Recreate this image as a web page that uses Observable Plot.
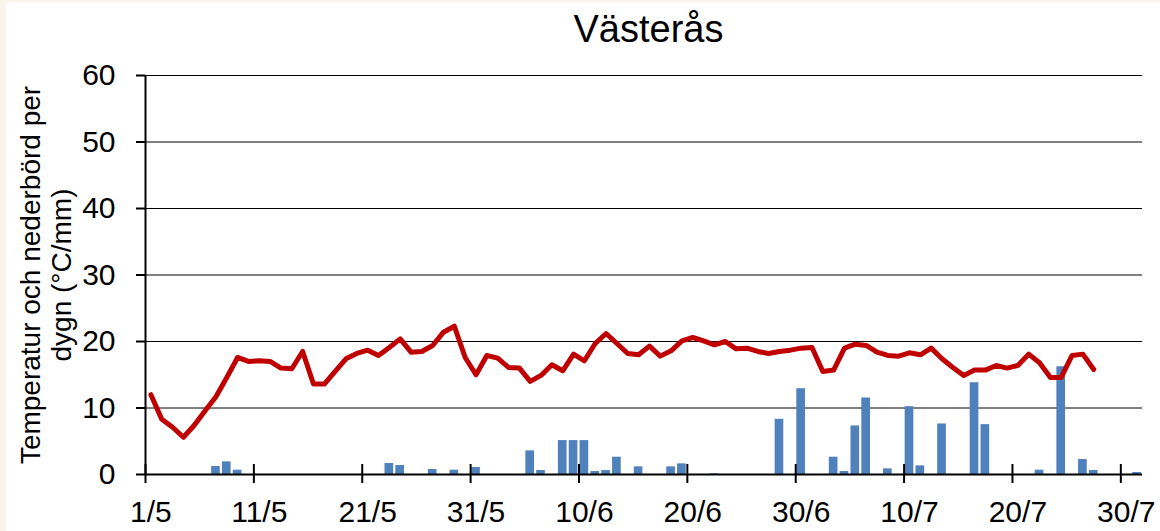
<!DOCTYPE html>
<html><head><meta charset="utf-8">
<script src="https://cdn.jsdelivr.net/npm/d3@7"></script>
<script src="https://cdn.jsdelivr.net/npm/@observablehq/plot@0.6"></script>
<style>
html,body{margin:0;padding:0;background:#f9f6e9;}
#chart{position:absolute;left:6px;top:2px;width:1154px;height:529px;background:#fff;}
svg{display:block}
</style></head><body><div id="chart"></div>
<script>
const title = "Västerås";
const yLabel = "Temperatur och nederbörd per\ndygn (°C/mm)";
const nDays = 92; // 1/5 .. 31/7
const tickDays = [0, 10, 20, 30, 40, 50, 60, 70, 80, 90];
const tickLabels = ["1/5", "11/5", "21/5", "31/5", "10/6", "20/6", "30/6", "10/7", "20/7", "30/7"];
const yTicks = [0, 10, 20, 30, 40, 50, 60];
// daily mean temperature from 1/5 (°C)
const tempValues = [
  12.0, 8.3, 7.1, 5.6, 7.4, 9.6, 11.7, 14.6, 17.6, 17.0,
  17.1, 17.0, 16.0, 15.9, 18.5, 13.6, 13.6, 15.5, 17.4, 18.2,
  18.7, 17.9, 19.1, 20.4, 18.4, 18.5, 19.4, 21.4, 22.3, 17.6,
  15.0, 17.9, 17.5, 16.1, 16.0, 14.0, 14.9, 16.5, 15.6, 18.1,
  17.1, 19.7, 21.2, 19.7, 18.2, 18.0, 19.3, 17.8, 18.6, 20.1,
  20.6, 20.1, 19.5, 20.0, 18.9, 19.0, 18.5, 18.2, 18.5, 18.7,
  19.0, 19.1, 15.5, 15.7, 19.0, 19.6, 19.4, 18.4, 17.9, 17.8,
  18.3, 18.0, 19.0, 17.4, 16.1, 14.9, 15.7, 15.7, 16.4, 16.0,
  16.4, 18.1, 16.8, 14.6, 14.6, 17.9, 18.1, 15.8
];
// daily precipitation (mm), day index from 1/5
const precipDays =   [6, 7, 8, 22, 23, 26, 28, 30, 35, 36, 38, 39, 40, 41, 42, 43, 45, 48, 49, 52, 58, 60, 63, 64, 65, 66, 68, 70, 71, 73, 76, 77, 82, 84, 86, 87, 91];
const precipValues = [1.2, 1.9, 0.65, 1.65, 1.35, 0.75, 0.65, 1.05, 3.55, 0.6, 5.1, 5.1, 5.1, 0.45, 0.6, 2.6, 1.15, 1.15, 1.6, 0.1, 8.3, 12.9, 2.6, 0.45, 7.3, 11.5, 0.85, 10.2, 1.3, 7.6, 13.8, 7.5, 0.65, 16.2, 2.25, 0.6, 0.3];

const temp = tempValues.map((t, i) => ({day: i, t}));
const precip = precipDays.map((d, i) => ({day: d, mm: precipValues[i]}));
const labelOf = new Map(tickDays.map((d, i) => [d, tickLabels[i]]));

const chart = Plot.plot({
  width: 1154, height: 529,
  marginLeft: 139, marginRight: 18, marginTop: 73, marginBottom: 57,
  style: {fontFamily: "'Liberation Sans', Arial, sans-serif", background: "#fff", color: "#000", overflow: "visible"},
  x: {domain: [0, nDays], axis: null},
  y: {domain: [0, 60], axis: null},
  marks: [
    Plot.ruleY(yTicks.filter(v => v > 0), {stroke: "#000", strokeWidth: 1}),
    Plot.rect(precip, {x1: d => d.day + 0.1, x2: d => d.day + 0.9, y1: () => 0, y2: "mm", fill: "#4F81BD"}),
    Plot.line(temp, {x: d => d.day + 0.5, y: "t", stroke: "#C00000", strokeWidth: 5, strokeLinejoin: "round", strokeLinecap: "round"}),
    Plot.ruleY([0], {stroke: "#000", strokeWidth: 2}),
    Plot.ruleX([0], {y1: () => 0, y2: () => 60, stroke: "#000", strokeWidth: 2}),
    Plot.ruleX(tickDays, {y1: () => -1.35, y2: () => 1.5, stroke: "#000", strokeWidth: 2}),
    Plot.axisY({ticks: yTicks, tickSize: 9, tickPadding: 21, fontSize: 30, strokeWidth: 2, tickFormat: d => String(d)}),
    Plot.axisX({ticks: tickDays.map(d => d + 0.5), tickSize: 0, tickPadding: 26, fontSize: 30, tickFormat: d => labelOf.get(Math.round(d - 0.5))}),
    Plot.text([title], {text: d => d, frameAnchor: "top", dx: 4.5, dy: -46, lineAnchor: "middle", fontSize: 38}),
    Plot.text([yLabel], {text: d => d, frameAnchor: "left", textAnchor: "middle", rotate: -90, dx: -100, lineAnchor: "middle", fontSize: 28, lineHeight: 1.1})
  ]
});
document.getElementById("chart").appendChild(chart);
</script></body></html>
